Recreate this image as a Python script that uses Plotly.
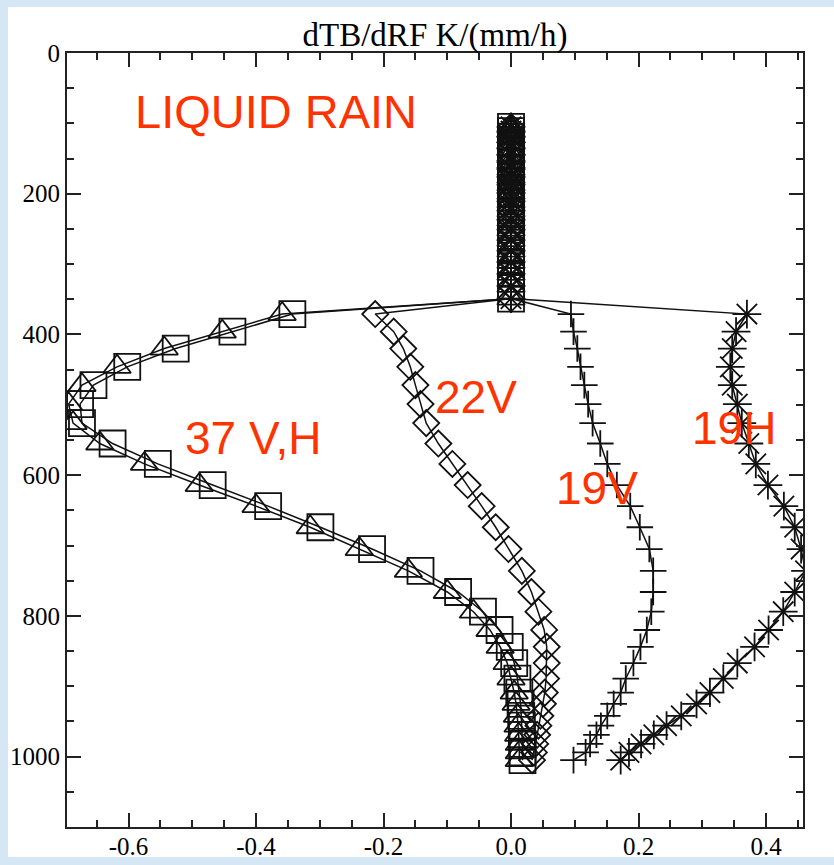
import plotly.graph_objects as go

# Pressure levels (hPa). Above ~350 hPa every channel is zero, forming the
# stacked column at x = 0; the profiles proper start at 371 hPa.
column_levels = [105, 111, 119, 127, 136, 145, 155, 165, 176, 187, 199, 211,
                 224, 237, 251, 266, 281, 297, 314, 331, 349]
column_values = [0.0, 0.0, 0.0, 0.0, 0.0, 0.0, 0.0, 0.0, 0.0, 0.0, 0.0, 0.0,
                 0.0, 0.0, 0.0, 0.0, 0.0, 0.0, 0.0, 0.0, 0.0]

profile_levels = [371, 396, 420, 446, 472, 499, 526, 555, 584, 614, 644, 674,
                  705, 736, 766, 794, 820, 844, 867, 889, 909, 925, 942, 956,
                  969, 982, 994, 1005]

# dTB/dRF sensitivities, K/(mm/h), on profile_levels
tb37v = [-0.343, -0.437, -0.526, -0.602, -0.655, -0.676, -0.673, -0.625,
         -0.554, -0.468, -0.381, -0.299, -0.218, -0.142, -0.083, -0.044,
         -0.018, -0.002, 0.005, 0.010, 0.013, 0.015, 0.016, 0.017, 0.017,
         0.018, 0.018, 0.018]
tb37h = [-0.359, -0.453, -0.544, -0.618, -0.673, -0.694, -0.687, -0.645,
         -0.575, -0.489, -0.400, -0.315, -0.238, -0.161, -0.100, -0.059,
         -0.033, -0.017, -0.006, 0.000, 0.005, 0.008, 0.010, 0.011, 0.012,
         0.013, 0.013, 0.013]
tb22v = [-0.213, -0.184, -0.169, -0.158, -0.150, -0.142, -0.133, -0.114,
         -0.092, -0.068, -0.046, -0.024, -0.004, 0.017, 0.032, 0.043, 0.052,
         0.056, 0.056, 0.055, 0.053, 0.050, 0.046, 0.043, 0.041, 0.038,
         0.036, 0.033]
tb19v = [0.094, 0.098, 0.104, 0.109, 0.115, 0.121, 0.128, 0.140, 0.151,
         0.166, 0.187, 0.202, 0.217, 0.223, 0.223, 0.220, 0.213, 0.203, 0.192,
         0.180, 0.172, 0.161, 0.151, 0.141, 0.134, 0.124, 0.117, 0.098]
tb19h = [0.370, 0.353, 0.347, 0.344, 0.347, 0.355, 0.362, 0.373, 0.384,
         0.403, 0.428, 0.445, 0.455, 0.462, 0.445, 0.427, 0.404, 0.382, 0.355,
         0.333, 0.312, 0.291, 0.267, 0.244, 0.224, 0.204, 0.185, 0.172]

x_tick_values = [-0.6, -0.4, -0.2, 0.0, 0.2, 0.4]
x_tick_labels = ["-0.6", "-0.4", "-0.2", "0.0", "0.2", "0.4"]
y_tick_values = [0, 200, 400, 600, 800, 1000]
y_tick_labels = ["0", "200", "400", "600", "800", "1000"]

# channel label, text position (x, pressure)
channel_labels = ["LIQUID RAIN", "37 V,H", "22V", "19V", "19H"]
label_x = [-0.369, -0.404, -0.055, 0.135, 0.350]
label_y = [83, 547, 489, 618, 533]

INK = "#111111"
RED = "#ff3300"
SERIF = "Liberation Serif, Times New Roman, serif"
SANS = "Liberation Sans, Arial, sans-serif"

levels = column_levels + profile_levels
series = [
    ("37V", tb37v, "square-open", 26),
    ("37H", tb37h, "triangle-up-open", 24),
    ("22V", tb22v, "diamond-open", 20),
    ("19V", tb19v, "cross-thin-open", 19),
    ("19H", tb19h, "asterisk-open", 24),
]

fig = go.Figure()
for name, vals, symbol, size in series:
    fig.add_trace(go.Scatter(
        x=column_values + vals,
        y=levels,
        name=name,
        mode="lines+markers",
        line=dict(color=INK, width=1.5),
        marker=dict(symbol=symbol, size=size, color=INK,
                    line=dict(color=INK, width=1.8)),
        cliponaxis=True,
    ))

for text, lx, ly in zip(channel_labels, label_x, label_y):
    fig.add_annotation(x=lx, y=ly, xref="x", yref="y", text=text,
                       showarrow=False, xanchor="center", yanchor="middle",
                       font=dict(family=SANS, size=47 if text == "LIQUID RAIN" else 46,
                                 color=RED))

axis_common = dict(
    ticks="inside", ticklen=14, tickwidth=1.5, tickcolor="#222",
    showline=True, linecolor="#222", linewidth=2, mirror="allticks",
    showgrid=False, zeroline=False, automargin=False,
    tickfont=dict(family=SERIF, size=25, color="black"),
)

fig.update_xaxes(
    range=[-0.6965, 0.458], tickmode="array",
    tickvals=x_tick_values, ticktext=x_tick_labels,
    ticklabelstandoff=-4,
    minor=dict(ticks="inside", ticklen=7, tickwidth=1.5, tickcolor="#222",
               tick0=0, dtick=0.05, showgrid=False),
    **axis_common,
)
fig.update_yaxes(
    range=[1100, 0], tickmode="array",
    tickvals=y_tick_values, ticktext=y_tick_labels,
    minor=dict(ticks="inside", ticklen=7, tickwidth=1.5, tickcolor="#222",
               tick0=0, dtick=50, showgrid=False),
    **axis_common,
)

fig.update_layout(
    width=834, height=865,
    margin=dict(l=67, r=31, t=53, b=38),
    paper_bgcolor="#d5e6f5",
    plot_bgcolor="white",
    showlegend=False,
    title=dict(text="dTB/dRF K/(mm/h)", x=0.5, xref="paper", xanchor="center",
               y=1 - 34 / 865, yref="container", yanchor="middle",
               font=dict(family=SERIF, size=33, color="black")),
    shapes=[dict(type="rect", xref="paper", yref="paper",
                 x0=-0.0802, x1=1.05, y0=-0.0388, y1=1.0595,
                 fillcolor="white", line=dict(width=0), layer="below")],
)

fig.write_html("out.html")
